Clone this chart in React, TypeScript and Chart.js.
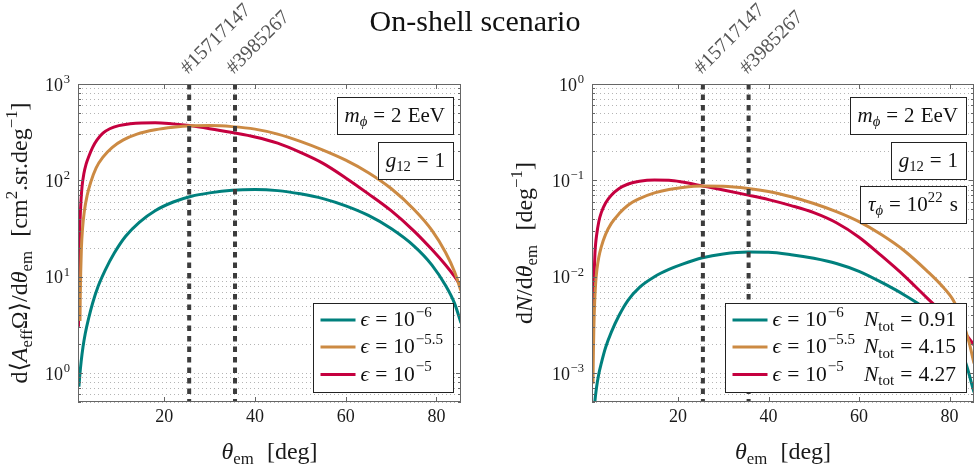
import { useEffect, useRef } from 'react';
import { Chart, registerables } from 'chart.js';

Chart.register(...registerables);

const W = 977;
const H = 466;
const SERIF = '"Liberation Serif", "DejaVu Serif", serif';

// Emission-angle axis, shared by both panels (deg)
const THETA_MIN = 1;
const THETA_MAX = 85.4;
const thetaTicks = [20, 40, 60, 80];

// Reconstructed arrival angles of the two events (deg)
const eventThetas = [25.5, 35.6];
const eventLabels = ['#15717147', '#3985267'];

// Kinetic-mixing benchmarks, exponent of epsilon
const epsExponents = ['−6', '−5.5', '−5'];
const nTot = [0.91, 4.15, 4.27];
const COLORS = ['#00807d', '#cc8a43', '#c5003f'];

// Left panel: d<A_eff Omega>/d theta_em  [cm^2 sr deg^-1]
const accTheta6 = [1.2, 1.4, 1.7, 2.1, 2.6, 3.3, 4.2, 5.4, 7, 9, 11.5, 14.5, 18, 22, 26, 30, 35, 40, 45, 50, 55, 60, 65, 70, 75, 79, 82, 84, 85.4];
const acc6 = [0.72, 0.95, 1.32, 1.86, 2.57, 3.63, 5.27, 7.85, 11.7, 17.6, 26.3, 36.7, 48.4, 59.6, 68.4, 74.1, 78.9, 80.3, 78.2, 72.4, 64.6, 54.3, 43.2, 31.6, 20.9, 13.2, 8.1, 5.25, 3.3];
const accTheta55 = [1.44, 1.5, 1.6, 1.75, 2, 2.4, 3, 3.8, 5, 6.5, 8.5, 11, 14, 18, 22, 26, 30, 35, 40, 45, 50, 55, 60, 65, 70, 75, 79, 82, 84, 85.4];
const acc55 = [3.47, 6.31, 11.2, 19.9, 31.6, 47.9, 69.2, 95.5, 135, 174, 219, 263, 302, 335, 356, 368, 370, 361, 340, 302, 254, 206, 162, 120, 82.2, 50.1, 30.2, 17.8, 11.2, 7.08];
const accTheta5 = [1.1, 1.15, 1.2, 1.3, 1.45, 1.65, 1.9, 2.3, 2.8, 3.4, 4.2, 5.2, 6.5, 8, 10, 12.5, 15, 18, 21, 25.5, 30, 35, 40, 45, 50, 55, 60, 65, 70, 75, 79, 82, 84, 85.4];
const acc5 = [3.02, 7.08, 12.6, 22.4, 38, 60.3, 87.1, 117.5, 148, 178, 219, 263, 309, 343, 370, 387, 394, 395, 389, 370, 344, 313, 282, 243, 195, 150, 106, 72.4, 48.4, 29.9, 19.1, 13.2, 10, 7.94];

// Right panel: dN/d theta_em  [deg^-1]
const rateTheta6 = [1.45, 1.6, 2, 2.5, 3.05, 4, 5.27, 7, 8.95, 11.5, 14.8, 18, 21, 25.4, 30, 35.5, 40, 45, 50, 55, 60, 65, 70, 75, 78, 81, 83.6, 85.4];
const rate6 = [0.000355, 0.000479, 0.000708, 0.000977, 0.00126, 0.00184, 0.00266, 0.00398, 0.00569, 0.00776, 0.01, 0.0119, 0.0135, 0.0157, 0.0172, 0.018, 0.0179, 0.0169, 0.0155, 0.0137, 0.01135, 0.00871, 0.00646, 0.00457, 0.00355, 0.0024, 0.00126, 0.00063];
const rateTheta55 = [1.22, 1.3, 1.4, 1.6, 1.8, 2.1, 2.5, 3.05, 4, 5.27, 7, 8.95, 11.5, 14.8, 18, 21, 25.4, 30, 35.5, 40, 45, 50, 55, 60, 65, 70, 75, 78, 81, 83, 84.3, 85.4];
const rate55 = [0.000776, 0.00159, 0.00282, 0.00562, 0.00851, 0.012, 0.0159, 0.0204, 0.0275, 0.0357, 0.0452, 0.0552, 0.0646, 0.0741, 0.0804, 0.0843, 0.0871, 0.0867, 0.0824, 0.0767, 0.0676, 0.0575, 0.0473, 0.0372, 0.0272, 0.0186, 0.0115, 0.00832, 0.0055, 0.00331, 0.00209, 0.00126];
const rateTheta5 = [1.1, 1.2, 1.3, 1.45, 1.65, 1.8, 2, 2.5, 3.05, 4, 5.27, 7, 9, 11.5, 14.8, 18, 21, 25.4, 30, 35.5, 40, 45, 50, 55, 60, 65, 70, 75, 80, 83.6, 85.4];
const rate5 = [0.00115, 0.00316, 0.00575, 0.0102, 0.0174, 0.0219, 0.0266, 0.0372, 0.0462, 0.0582, 0.07, 0.0822, 0.0916, 0.0977, 0.1005, 0.1, 0.0959, 0.0875, 0.0794, 0.0702, 0.0631, 0.0547, 0.0462, 0.0363, 0.0257, 0.0164, 0.0102, 0.00603, 0.00363, 0.00251, 0.00195];

type Run = { t: string; it?: boolean; sub?: boolean; sup?: boolean; pre?: number; post?: number };

const eq: Run = { t: '=', pre: 0.28, post: 0.28 };

function runFont(r: Run, size: number) {
  const s = r.sub || r.sup ? size * 0.7 : size;
  return `${r.it ? 'italic ' : ''}${s}px ${SERIF}`;
}

function runsWidth(ctx: CanvasRenderingContext2D, runs: Run[], size: number) {
  let w = 0;
  for (const r of runs) {
    ctx.font = runFont(r, size);
    w += (r.pre || 0) * size + ctx.measureText(r.t).width + (r.post || 0) * size;
  }
  return w;
}

function drawRuns(
  ctx: CanvasRenderingContext2D,
  runs: Run[],
  x: number,
  y: number,
  size: number,
  align: 'left' | 'center' | 'right' = 'left',
) {
  const w = runsWidth(ctx, runs, size);
  let cx = align === 'left' ? x : align === 'center' ? x - w / 2 : x - w;
  ctx.textAlign = 'left';
  ctx.textBaseline = 'alphabetic';
  for (const r of runs) {
    ctx.font = runFont(r, size);
    cx += (r.pre || 0) * size;
    const dy = r.sub ? size * 0.22 : r.sup ? -size * 0.42 : 0;
    ctx.fillText(r.t, cx, y + dy);
    cx += ctx.measureText(r.t).width + (r.post || 0) * size;
  }
  return w;
}

type Panel = {
  area: { left: number; right: number; top: number; bottom: number };
  yMin: number;
  yMax: number;
  series: { theta: number[]; values: number[] }[];
  yTitle: Run[];
  yTitleX: number;
  boxes: Run[][];
  withCounts: boolean;
  title?: string;
};

const xTitle: Run[] = [{ t: 'θ', it: true }, { t: 'em', sub: true }, { t: '[deg]', pre: 0.55 }];

const infoMass: Run[] = [{ t: 'm', it: true }, { t: 'ϕ', it: true, sub: true }, eq, { t: '2' }, { t: 'EeV', pre: 0.3 }];
const infoCoupling: Run[] = [{ t: 'g', it: true }, { t: '12', sub: true }, eq, { t: '1' }];
const infoLifetime: Run[] = [{ t: 'τ', it: true }, { t: 'ϕ', it: true, sub: true }, eq, { t: '10' }, { t: '22', sup: true }, { t: 's', pre: 0.35 }];

function logGrid(min: number, max: number) {
  const out: { v: number; major: boolean; e: number }[] = [];
  for (let e = Math.floor(Math.log10(min)); e <= Math.ceil(Math.log10(max)); e++) {
    for (let m = 1; m <= 9; m++) {
      const v = m * Math.pow(10, e);
      if (v >= min * 0.999 && v <= max * 1.001) out.push({ v, major: m === 1, e });
    }
  }
  return out;
}

function decorPlugin(p: Panel) {
  return {
    id: 'panelDecor',
    beforeDatasetsDraw(chart: any) {
      const { ctx, chartArea: a } = chart;
      const ys = chart.scales.y;
      ctx.save();
      ctx.strokeStyle = '#b4b4b4';
      ctx.lineWidth = 1;
      ctx.setLineDash([1, 3]);
      for (const g of logGrid(p.yMin, p.yMax)) {
        const py = Math.round(ys.getPixelForValue(g.v)) + 0.5;
        ctx.beginPath();
        ctx.moveTo(a.left, py);
        ctx.lineTo(a.right, py);
        ctx.stroke();
      }
      ctx.restore();
    },
    afterDatasetsDraw(chart: any) {
      const { ctx, chartArea: a } = chart;
      const xs = chart.scales.x;
      const ys = chart.scales.y;
      ctx.save();

      // event directions
      ctx.strokeStyle = '#3c3c3c';
      ctx.lineWidth = 4;
      ctx.setLineDash([5.5, 5]);
      for (const th of eventThetas) {
        const px = xs.getPixelForValue(th);
        ctx.beginPath();
        ctx.moveTo(px, a.top);
        ctx.lineTo(px, a.bottom);
        ctx.stroke();
      }
      ctx.setLineDash([]);

      // frame and ticks
      ctx.strokeStyle = '#666';
      ctx.lineWidth = 1;
      ctx.strokeRect(a.left + 0.5, a.top + 0.5, a.right - a.left - 1, a.bottom - a.top - 1);
      ctx.beginPath();
      for (const g of logGrid(p.yMin, p.yMax)) {
        const py = Math.round(ys.getPixelForValue(g.v)) + 0.5;
        const len = g.major ? 5 : 3;
        ctx.moveTo(a.left, py);
        ctx.lineTo(a.left + len, py);
        ctx.moveTo(a.right, py);
        ctx.lineTo(a.right - len, py);
      }
      for (const t of thetaTicks) {
        const px = Math.round(xs.getPixelForValue(t)) + 0.5;
        ctx.moveTo(px, a.bottom);
        ctx.lineTo(px, a.bottom - 5);
        ctx.moveTo(px, a.top);
        ctx.lineTo(px, a.top + 5);
      }
      ctx.stroke();

      // tick labels
      ctx.fillStyle = '#1a1a1a';
      for (const g of logGrid(p.yMin, p.yMax)) {
        if (!g.major) continue;
        const py = ys.getPixelForValue(g.v);
        const exp = g.e < 0 ? '−' + String(-g.e) : String(g.e);
        drawRuns(ctx, [{ t: '10' }, { t: exp, sup: true, pre: 0.04 }], a.left - 8, py + 6.5, 18, 'right');
      }
      for (const t of thetaTicks) {
        drawRuns(ctx, [{ t: String(t) }], xs.getPixelForValue(t), a.bottom + 20, 18, 'center');
      }

      // axis titles
      drawRuns(ctx, xTitle, (a.left + a.right) / 2, 459, 24, 'center');
      ctx.save();
      ctx.translate(p.yTitleX, (a.top + a.bottom) / 2);
      ctx.rotate(-Math.PI / 2);
      drawRuns(ctx, p.yTitle, 0, 0, 24, 'center');
      ctx.restore();

      // event tags
      ctx.fillStyle = '#555';
      ctx.font = `20px ${SERIF}`;
      eventThetas.forEach((th, i) => {
        const px = xs.getPixelForValue(th);
        ctx.save();
        ctx.translate(px - 5, a.top - 13);
        ctx.rotate(-Math.PI / 4);
        ctx.textAlign = 'left';
        ctx.textBaseline = 'middle';
        ctx.fillText(eventLabels[i], 0, 0);
        ctx.restore();
      });

      // parameter boxes
      const fs = 21;
      const boxTops = [13, 58, 102];
      p.boxes.forEach((runs, i) => {
        const w = runsWidth(ctx, runs, fs) + 16;
        const right = a.right - 8;
        const top = a.top + boxTops[i];
        const h = 37;
        ctx.fillStyle = '#fff';
        ctx.fillRect(right - w, top, w, h);
        ctx.strokeStyle = '#222';
        ctx.lineWidth = 1;
        ctx.strokeRect(Math.round(right - w) + 0.5, top + 0.5, Math.round(w), h);
        ctx.fillStyle = '#111';
        drawRuns(ctx, runs, right - 8, top + h / 2 + 6, fs, 'right');
      });

      // legend
      const lf = 21.5;
      const epsRuns = epsExponents.map((e) => [{ t: 'ϵ', it: true }, eq, { t: '10' }, { t: e, sup: true, pre: 0.04 }] as Run[]);
      const nRuns = nTot.map((n) => [{ t: 'N', it: true }, { t: 'tot', sub: true }, eq, { t: n.toFixed(2) }] as Run[]);
      const epsW = Math.max(...epsRuns.map((r) => runsWidth(ctx, r, lf)));
      const nW = Math.max(...nRuns.map((r) => runsWidth(ctx, r, lf)));
      const textX = 48;
      const legW = textX + epsW + (p.withCounts ? 9 + nW : 0) + 10;
      const legH = 89;
      const lx = a.right - 8 - legW;
      const ly = a.bottom - 10 - legH;
      ctx.fillStyle = '#fff';
      ctx.fillRect(lx, ly, legW, legH);
      ctx.strokeStyle = '#222';
      ctx.lineWidth = 1;
      ctx.strokeRect(Math.round(lx) + 0.5, ly + 0.5, Math.round(legW), legH);
      const rowY = [17, 44, 71.5];
      epsRuns.forEach((runs, i) => {
        const cy = ly + rowY[i];
        ctx.strokeStyle = COLORS[i];
        ctx.lineWidth = 3.2;
        ctx.beginPath();
        ctx.moveTo(lx + 8, cy);
        ctx.lineTo(lx + 43, cy);
        ctx.stroke();
        ctx.fillStyle = '#111';
        drawRuns(ctx, runs, lx + textX, cy + 6, lf, 'left');
        if (p.withCounts) drawRuns(ctx, nRuns[i], lx + textX + epsW + 9, cy + 6, lf, 'left');
      });

      if (p.title) {
        ctx.fillStyle = '#111';
        ctx.font = `30px ${SERIF}`;
        ctx.textAlign = 'center';
        ctx.textBaseline = 'alphabetic';
        ctx.fillText(p.title, 475, 31);
      }
      ctx.restore();
    },
  };
}

const panels: Panel[] = [
  {
    area: { left: 78, right: 461, top: 84, bottom: 402 },
    yMin: 0.5,
    yMax: 1000,
    series: [
      { theta: accTheta6, values: acc6 },
      { theta: accTheta55, values: acc55 },
      { theta: accTheta5, values: acc5 },
    ],
    yTitle: [
      { t: 'd⟨' }, { t: 'A', it: true }, { t: 'eff', sub: true }, { t: 'Ω⟩/d' }, { t: 'θ', it: true }, { t: 'em', sub: true },
      { t: '[cm', pre: 0.6 }, { t: '2', sup: true }, { t: '.sr.deg' }, { t: '−1', sup: true }, { t: ']' },
    ],
    yTitleX: 27,
    boxes: [infoMass, infoCoupling],
    withCounts: false,
    title: 'On-shell scenario',
  },
  {
    area: { left: 592, right: 974, top: 84, bottom: 402 },
    yMin: 5e-4,
    yMax: 1,
    series: [
      { theta: rateTheta6, values: rate6 },
      { theta: rateTheta55, values: rate55 },
      { theta: rateTheta5, values: rate5 },
    ],
    yTitle: [
      { t: 'd' }, { t: 'N', it: true }, { t: '/d' }, { t: 'θ', it: true }, { t: 'em', sub: true },
      { t: '[deg', pre: 0.6 }, { t: '−1', sup: true }, { t: ']' },
    ],
    yTitleX: 532,
    boxes: [infoMass, infoCoupling, infoLifetime],
    withCounts: true,
  },
];

function PanelCanvas({ panel }: { panel: Panel }) {
  const ref = useRef<HTMLCanvasElement | null>(null);
  useEffect(() => {
    if (!ref.current) return;
    const a = panel.area;
    const chart = new Chart(ref.current, {
      type: 'line',
      data: {
        datasets: panel.series.map((s, i) => ({
          data: s.theta.map((x, j) => ({ x, y: s.values[j] })),
          borderColor: COLORS[i],
          borderWidth: 3,
          pointRadius: 0,
          fill: false,
          cubicInterpolationMode: 'monotone' as const,
          clip: 0,
        })),
      },
      options: {
        responsive: false,
        animation: false,
        events: [],
        layout: { padding: { left: a.left, right: W - a.right, top: a.top, bottom: H - a.bottom } },
        scales: {
          x: { type: 'linear', min: THETA_MIN, max: THETA_MAX, display: false },
          y: { type: 'logarithmic', min: panel.yMin, max: panel.yMax, display: false },
        },
        plugins: { legend: { display: false }, tooltip: { enabled: false }, title: { display: false } },
      },
      plugins: [decorPlugin(panel)],
    });
    return () => chart.destroy();
  }, [panel]);
  return (
    <canvas
      ref={ref}
      width={W}
      height={H}
      style={{ position: 'absolute', left: 0, top: 0, width: W, height: H }}
    />
  );
}

export default function App() {
  return (
    <div style={{ position: 'absolute', left: 0, top: 0, width: W, height: H, background: '#fff' }}>
      {panels.map((p, i) => (
        <PanelCanvas key={i} panel={p} />
      ))}
    </div>
  );
}
